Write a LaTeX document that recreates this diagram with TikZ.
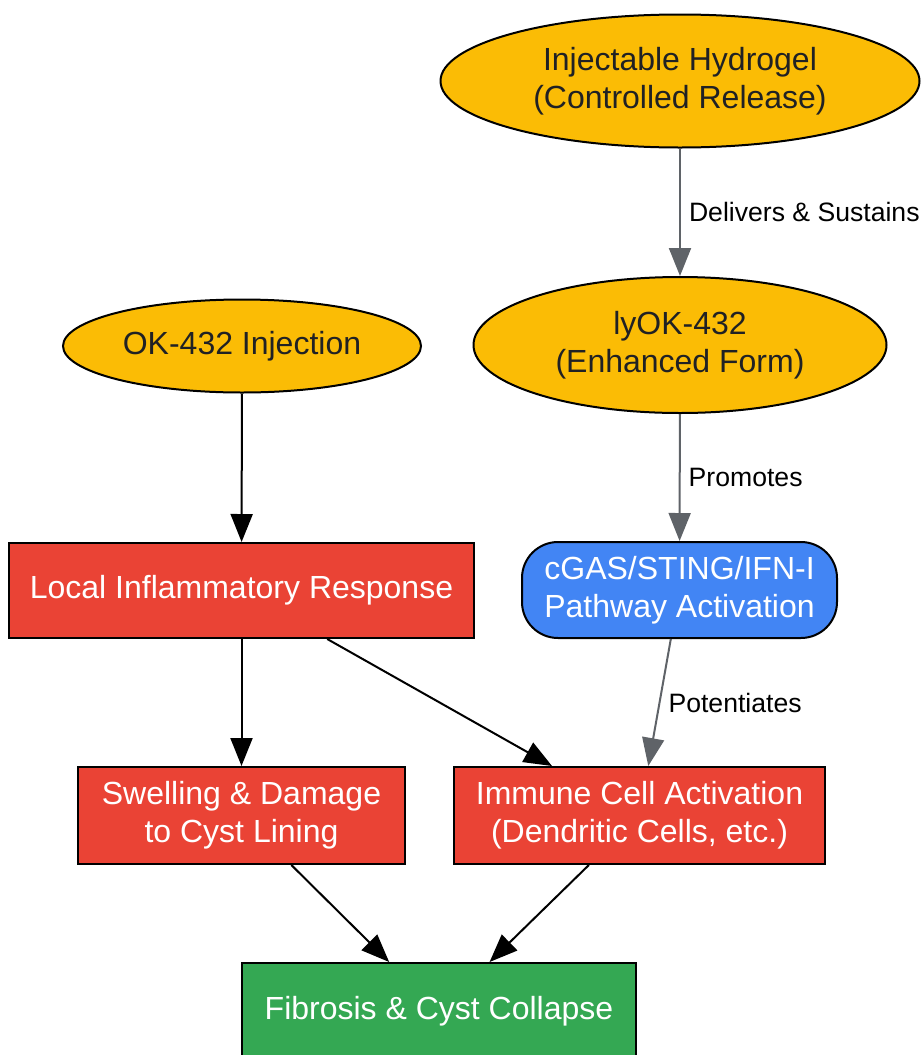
\documentclass[tikz,border=0pt]{standalone}
\usepackage{fontspec}
\setmainfont{Liberation Sans}
\usetikzlibrary{arrows.meta,shapes.geometric}
\definecolor{gold}{HTML}{FBBC05}
\definecolor{tomato}{HTML}{EA4335}
\definecolor{azure}{HTML}{4285F4}
\definecolor{leaf}{HTML}{34A853}
\definecolor{slate}{HTML}{5F6368}
\definecolor{ink}{HTML}{202124}

\begin{document}
\begin{tikzpicture}[x=0.5pt,y=-0.5pt,
    every node/.style={font=\fontsize{16}{19}\selectfont,align=center,inner sep=0pt},
    agent/.style={ellipse,draw,line width=1pt,fill=gold,text=ink},
    effect/.style={rectangle,draw,line width=1pt,fill=tomato,text=white},
    edge/.style={line width=1pt,-{Triangle[length=14pt,width=11pt]}},
    soft/.style={edge,slate},
    tag/.style={font=\fontsize{13.3}{16}\selectfont,text=black,right,inner sep=4pt}]
  \useasboundingbox (0,0) rectangle (921,1055);
  % agents
  \node[agent,minimum width=239.5pt,minimum height=66.5pt] (gel) at (680,81) {Injectable Hydrogel\\(Controlled Release)};
  \node[agent,minimum width=206.5pt,minimum height=68pt] (lyok) at (680,345) {lyOK-432\\(Enhanced Form)};
  \node[agent,minimum width=179pt,minimum height=46.5pt] (ok) at (242,346) {OK-432 Injection};
  % pathway
  \node[rectangle,rounded corners=18pt,draw,line width=1pt,fill=azure,text=white,minimum width=157.5pt,minimum height=48pt] (cgas) at (679.5,590) {cGAS/STING/IFN-I\\Pathway Activation};
  % effects
  \node[effect,minimum width=232.5pt,minimum height=47.5pt] (local) at (241.5,590.5) {Local Inflammatory Response};
  \node[effect,minimum width=163.5pt,minimum height=48.5pt] (swell) at (241.5,815.5) {Swelling \& Damage\\to Cyst Lining};
  \node[effect,minimum width=185.5pt,minimum height=48.5pt] (immune) at (639.5,815.5) {Immune Cell Activation\\(Dendritic Cells, etc.)};
  \node[rectangle,draw,line width=1pt,fill=leaf,text=white,minimum width=197pt,minimum height=48.5pt] (fib) at (439,1011.5) {Fibrosis \& Cyst Collapse};
  % connectors
  \draw[soft] (gel) -- node[tag] {Delivers \& Sustains} (lyok);
  \draw[soft] (lyok) -- node[tag] {Promotes} (cgas);
  \draw[soft] (cgas) -- node[tag] {Potentiates} (immune);
  \draw[edge] (ok) -- (local);
  \draw[edge] (local) -- (swell);
  \draw[edge] (local) -- (immune);
  \draw[edge] (swell) -- (fib);
  \draw[edge] (immune) -- (fib);
\end{tikzpicture}
\end{document}
